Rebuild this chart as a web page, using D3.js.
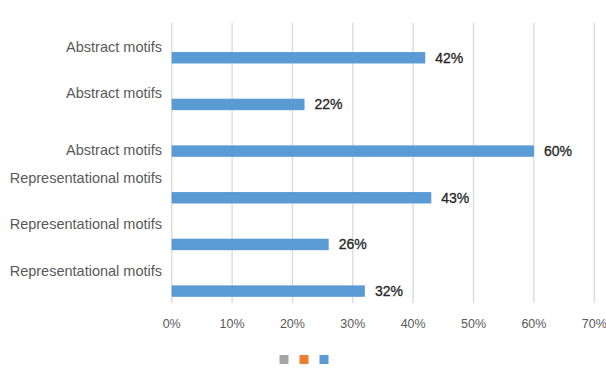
<!DOCTYPE html>
<html>
<head>
<meta charset="utf-8">
<script src="https://cdn.jsdelivr.net/npm/d3@7"></script>
<style>
  body { margin: 0; background: #fff; }
  svg text { font-family: "Liberation Sans", Arial, sans-serif; }
</style>
</head>
<body>
<div id="chart"></div>
<script>
// chart data
var categories = ["Abstract motifs", "Abstract motifs", "Abstract motifs",
                  "Representational motifs", "Representational motifs", "Representational motifs"];
var values = [42, 22, 60, 43, 26, 32];           // blue series, percent
var seriesNames = ["", "", ""];                  // legend entries have no text
var seriesColors = ["#A5A5A5", "#ED7D31", "#5B9BD5"];
var tickValues = [0, 10, 20, 30, 40, 50, 60, 70];

// the category labels in the original sit a bit off the band centre
var labelNudge = [0, 0, 10, -8.5, -9, -9.5];

var width = 606, height = 368;

var svg = d3.select("#chart").append("svg")
    .attr("width", width)
    .attr("height", height);

var x = d3.scaleLinear().domain([0, 70]).range([171.7, 594.3]);

var y = d3.scaleBand()
    .domain(d3.range(categories.length))
    .range([23, 303])
    .paddingInner(0).paddingOuter(0);

// three series per category, only the last one carries values
var ySub = d3.scaleBand()
    .domain(d3.range(seriesNames.length))
    .range([0, y.bandwidth()])
    .paddingInner(0).paddingOuter(0.54);

// gridlines
svg.append("g").selectAll("line")
    .data(tickValues)
    .enter().append("line")
    .attr("x1", function(d){ return x(d); })
    .attr("x2", function(d){ return x(d); })
    .attr("y1", 23).attr("y2", 303)
    .style("stroke", "#D9D9D9")
    .style("stroke-width", 1.3);

// x tick labels
svg.append("g").selectAll("text")
    .data(tickValues)
    .enter().append("text")
    .attr("x", function(d){ return x(d); })
    .attr("y", 328)
    .attr("text-anchor", "middle")
    .style("font-size", "12.5px")
    .style("fill", "#595959")
    .text(function(d){ return d + "%"; });

// category labels
svg.append("g").selectAll("text")
    .data(categories)
    .enter().append("text")
    .attr("x", 162)
    .attr("y", function(d, i){ return y(i) + y.bandwidth() / 2 + 5.4 + labelNudge[i]; })
    .attr("text-anchor", "end")
    .style("font-size", "14.5px")
    .style("fill", "#595959")
    .text(function(d){ return d; });

// bars
var blue = 2;
svg.append("g").selectAll("rect")
    .data(values)
    .enter().append("rect")
    .attr("x", x(0))
    .attr("y", function(d, i){ return y(i) + ySub(blue); })
    .attr("width", function(d){ return x(d) - x(0); })
    .attr("height", ySub.bandwidth())
    .style("fill", seriesColors[blue]);

// data labels
svg.append("g").selectAll("text")
    .data(values)
    .enter().append("text")
    .attr("x", function(d){ return x(d) + 10; })
    .attr("y", function(d, i){ return y(i) + ySub(blue) + ySub.bandwidth() / 2 + 5; })
    .style("font-size", "14px")
    .style("fill", "#262626")
    .style("stroke", "#262626")
    .style("stroke-width", 0.3)
    .text(function(d){ return d + "%"; });

// legend (markers only)
svg.append("g").selectAll("rect")
    .data(seriesColors)
    .enter().append("rect")
    .attr("x", function(d, i){ return 279.5 + i * 20; })
    .attr("y", 355)
    .attr("width", 9)
    .attr("height", 9)
    .style("fill", function(d){ return d; });
</script>
</body>
</html>
